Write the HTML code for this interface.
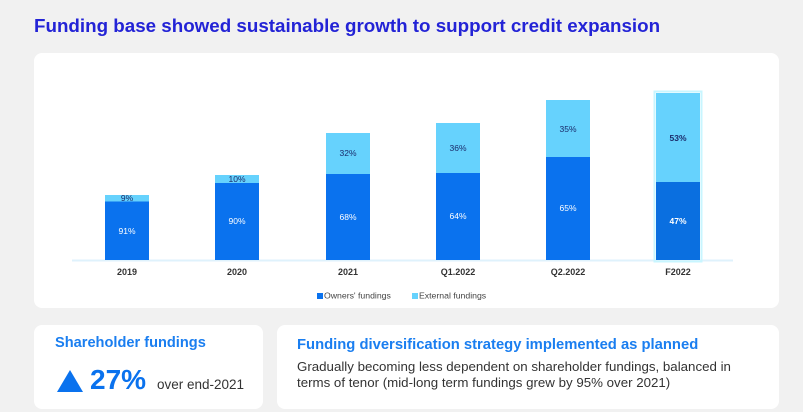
<!DOCTYPE html>
<html><head><meta charset="utf-8"><style>
*{margin:0;padding:0;box-sizing:border-box}
body{width:803px;height:412px;background:#f1f1f1;font-family:"Liberation Sans",sans-serif;position:relative;overflow:hidden}
.abs{position:absolute}
.card{position:absolute;background:#fff;border-radius:8px}
.t{position:absolute;white-space:nowrap}
</style></head><body>
<div class="t" style="left:34px;top:15px;font-size:18.8px;font-weight:bold;color:#2323d6">Funding base showed sustainable growth to support credit expansion</div>
<div class="card" style="left:34px;top:53px;width:745px;height:255px"></div>
<svg class="abs" style="left:0;top:0" width="803" height="412">
<line x1="72" y1="260.5" x2="733" y2="260.5" stroke="#dff2fc" stroke-width="2"/>
<g font-family="Liberation Sans" font-size="8.5" text-anchor="middle">
<rect x="654.5" y="91.5" width="47" height="170" fill="none" stroke="#c8f6ff" stroke-width="2"/>
<rect x="656" y="93" width="44" height="89" fill="#66d2fd"/>
<rect x="656" y="182" width="44" height="78" fill="#0a6fe0"/>
<rect x="105" y="195" width="44" height="6.5" fill="#66d2fd"/><rect x="105" y="201.5" width="44" height="58.5" fill="#0a72ee"/>
<rect x="215" y="175" width="44" height="8" fill="#66d2fd"/><rect x="215" y="183" width="44" height="77" fill="#0a72ee"/>
<rect x="326" y="133" width="44" height="41" fill="#66d2fd"/><rect x="326" y="174" width="44" height="86" fill="#0a72ee"/>
<rect x="436" y="123" width="44" height="50" fill="#66d2fd"/><rect x="436" y="173" width="44" height="87" fill="#0a72ee"/>
<rect x="546" y="100" width="44" height="57" fill="#66d2fd"/><rect x="546" y="157" width="44" height="103" fill="#0a72ee"/>
<g fill="#1a2a6a"><text x="127" y="201">9%</text><text x="237" y="182">10%</text><text x="348" y="156">32%</text><text x="458" y="151">36%</text><text x="568" y="132">35%</text><text x="678" y="141" font-weight="bold">53%</text></g>
<g fill="#fff"><text x="127" y="234">91%</text><text x="237" y="224">90%</text><text x="348" y="220">68%</text><text x="458" y="219">64%</text><text x="568" y="211">65%</text><text x="678" y="224" font-weight="bold">47%</text></g>
<g fill="#333" font-weight="bold" font-size="9"><text x="127" y="275">2019</text><text x="237" y="275">2020</text><text x="348" y="275">2021</text><text x="458" y="275">Q1.2022</text><text x="568" y="275">Q2.2022</text><text x="678" y="275">F2022</text></g>
<rect x="317" y="293" width="6" height="6" fill="#0a72ee"/><text x="324" y="298.5" text-anchor="start" font-size="8.7" fill="#444">Owners' fundings</text>
<rect x="412" y="293" width="6" height="6" fill="#66d2fd"/><text x="419" y="298.5" text-anchor="start" font-size="8.7" fill="#444">External fundings</text>
</g>
</svg>
<div class="card" style="left:34px;top:325px;width:229px;height:84px"></div>
<div class="card" style="left:277px;top:325px;width:502px;height:84px"></div>
<div class="t" style="left:55px;top:335px;font-size:14.6px;font-weight:bold;color:#1a7ef0">Shareholder fundings</div>
<svg class="abs" style="left:57px;top:370px" width="26" height="22"><polygon points="13,0 26,22 0,22" fill="#0a72ee"/></svg>
<div class="t" style="left:90px;top:364px;font-size:28px;font-weight:bold;color:#0a72ee">27%</div>
<div class="t" style="left:157px;top:377px;font-size:13.5px;color:#333">over end-2021</div>
<div class="t" style="left:297px;top:337px;font-size:14.8px;font-weight:bold;color:#1a7ef0">Funding diversification strategy implemented as planned</div>
<div class="t" style="left:297px;top:359px;font-size:13.3px;color:#333;line-height:15.5px">Gradually becoming less dependent on shareholder fundings, balanced in<br>terms of tenor (mid-long term fundings grew by 95% over 2021)</div>
</body></html>
